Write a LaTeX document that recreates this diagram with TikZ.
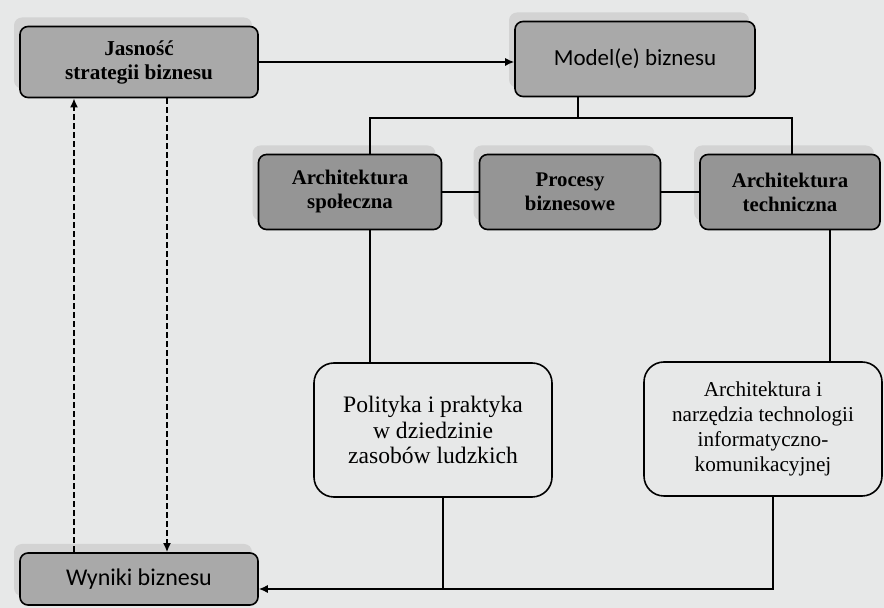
\documentclass[tikz,border=0pt]{standalone}
\usepackage{fontspec}
\setmainfont{Liberation Serif}
\newfontfamily\calib{Carlito}
\usetikzlibrary{arrows.meta,shadows}
\definecolor{paper}{HTML}{E7E8E8}
\definecolor{boxgray}{HTML}{A9A9A9}
\definecolor{boxdark}{HTML}{959595}
\definecolor{shade}{HTML}{D3D3D3}
\tikzset{
  graybox/.style={draw,line width=0.8pt,rounded corners=4pt,fill=boxgray,align=center,
    inner sep=0pt,drop shadow={shadow xshift=-3pt,shadow yshift=4.5pt,fill=shade,opacity=1}},
  darkbox/.style={graybox,fill=boxdark},
  lightbox/.style={draw,line width=0.8pt,rounded corners=10pt,fill=paper,align=center,inner sep=0pt},
  link/.style={line width=0.7pt},
  tip/.style={-{Latex[length=4.5pt,width=4pt]}},
  dash link/.style={link,tip,line width=1pt,dash pattern=on 3pt off 1.5pt}
}
\begin{document}
\begin{tikzpicture}[x=0.5pt,y=-0.5pt]
 \useasboundingbox[fill=paper] (0,0) rectangle (884,608);
 % boxes
 \node[graybox,minimum width=119pt,minimum height=35.5pt,font=\bfseries\fontsize{10.6}{12}\selectfont]
   (jas) at (139,62) {Jasność\\strategii biznesu};
 \node[graybox,minimum width=120pt,minimum height=37.5pt,font=\calib\fontsize{11.5}{14}\selectfont]
   (model) at (635,59) {Model(e) biznesu};
 \node[darkbox,minimum width=91.5pt,minimum height=37.5pt,font=\bfseries\fontsize{10.4}{12}\selectfont]
   (arS) at (350,192) {Architektura\\społeczna};
 \node[darkbox,minimum width=90.5pt,minimum height=37.5pt,font=\bfseries\fontsize{10.4}{12}\selectfont]
   (proc) at (570,192) {Procesy\\biznesowe};
 \node[darkbox,minimum width=90pt,minimum height=37.5pt,font=\bfseries\fontsize{10.4}{12}\selectfont]
   (arT) at (790,192) {Architektura\\techniczna};
 \node[lightbox,minimum width=119pt,minimum height=67pt,font=\fontsize{11.8}{12.8}\selectfont]
   (pol) at (433,430) {Polityka i praktyka\\w dziedzinie\\zasobów ludzkich};
 \node[lightbox,minimum width=119pt,minimum height=67pt,font=\fontsize{10.6}{12.5}\selectfont]
   (ict) at (763,429) {Architektura i\\narzędzia technologii\\informatyczno-\\komunikacyjnej};
 \node[graybox,minimum width=119pt,minimum height=26pt,font=\calib\fontsize{12}{14}\selectfont]
   (wyn) at (139,579) {Wyniki biznesu};
 % connectors
 \coordinate (hub) at (578,118);
 \coordinate (lft) at (370,118);
 \coordinate (rgt) at (792,118);
 \coordinate (ictx) at (830,300);
 \coordinate (polx) at (443,589);
 \coordinate (ictb) at (773,589);
 \draw[link,tip] (jas.east) -- (jas.east -| model.west);
 \draw[link] (model.south -| hub) -- (hub);
 \draw[link] (arS.north -| lft) -- (lft) -- (rgt) -- (arT.north -| rgt);
 \draw[link] (arS.east) -- (proc.west);
 \draw[link] (proc.east) -- (arT.west);
 \draw[link] (arS.south -| lft) -- (pol.north -| lft);
 \draw[link] (arT.south -| ictx) -- (ict.north -| ictx);
 \draw[link] (pol.south -| polx) -- (polx);
 \draw[link,tip] (ict.south -| ictb) -- (ictb) -- (wyn.east |- ictb);
 \draw[dash link] (wyn.north -| 74,0) -- (jas.south -| 74,0);
 \draw[dash link] (jas.south -| 167,0) -- (wyn.north -| 167,0);
\end{tikzpicture}
\end{document}
